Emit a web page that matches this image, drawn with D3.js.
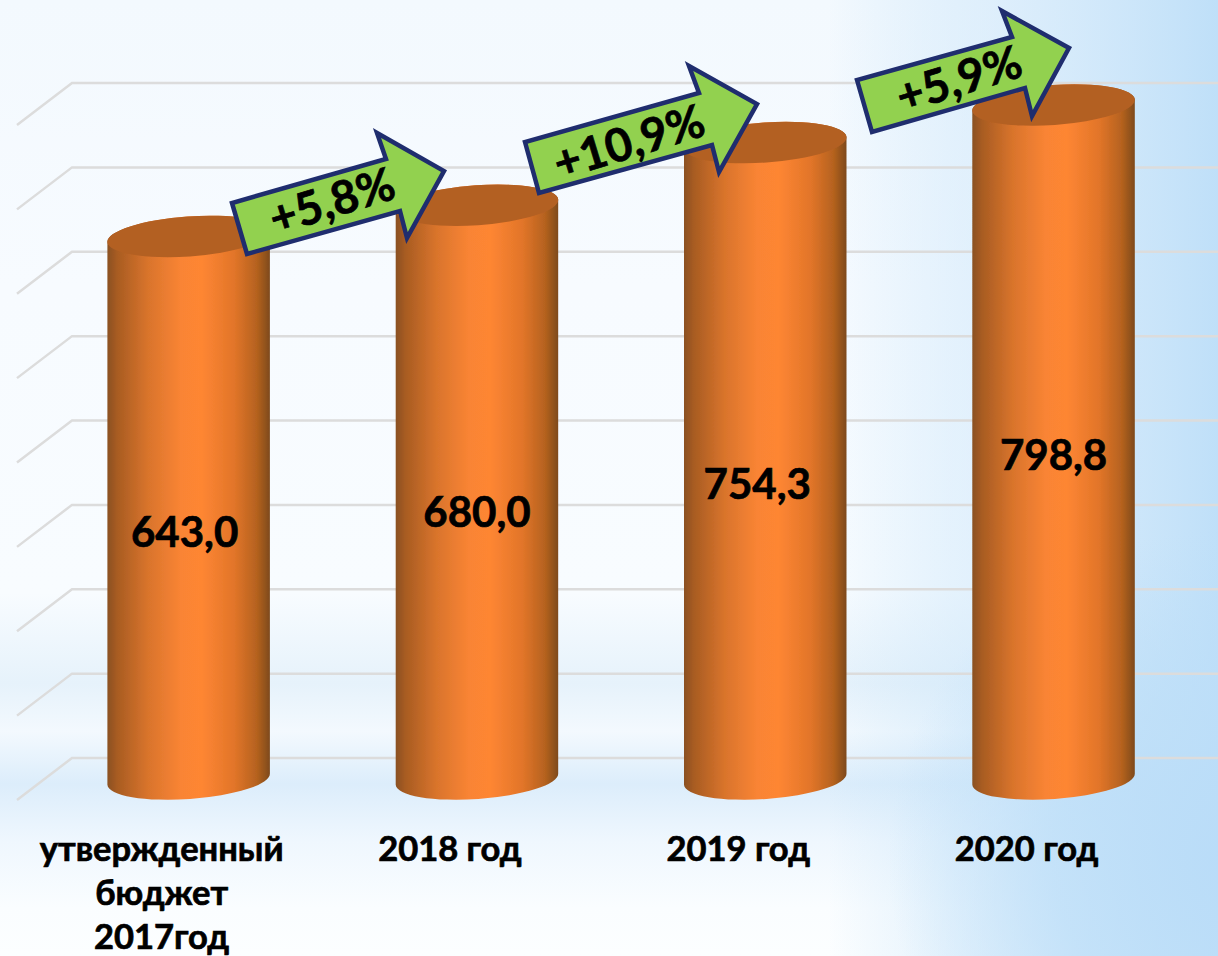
<!DOCTYPE html>
<html>
<head>
<meta charset="utf-8">
<script src="https://cdn.jsdelivr.net/npm/d3@7"></script>
<style>
html, body { margin: 0; padding: 0; background: #fff; overflow: hidden; }
text { font-family: Lato, "Open Sans", sans-serif; font-weight: 700; fill: #000; stroke: #000; stroke-width: 0.7; }
</style>
</head>
<body>
<div id="chart-area"></div>
<script>
var categories = ["утвержденный бюджет 2017год", "2018 год", "2019 год", "2020 год"];
var categoryLines = [["утвержденный", "бюджет", "2017год"], ["2018 год"], ["2019 год"], ["2020 год"]];
var values = [643.0, 680.0, 754.3, 798.8];
var valueLabels = ["643,0", "680,0", "754,3", "798,8"];
var growthLabels = ["+5,8%", "+10,9%", "+5,9%"];
var yTicks = [0, 100, 200, 300, 400, 500, 600, 700, 800];

var width = 1218;
var height = 956;

var svg = d3.select("#chart-area")
	.append("svg")
	.attr("width", width)
	.attr("height", height)
	.style("display", "block");

var defs = svg.append("defs");

function addStops(g, stops) {
	stops.forEach((s) => {
		g.append("stop").attr("offset", s[0]).attr("stop-color", s[1]).attr("stop-opacity", s[2] === undefined ? 1 : s[2]);
	});
}

function gradient(id, stops, x2, y2) {
	var g = defs.append("linearGradient").attr("id", id)
		.attr("x1", 0).attr("y1", 0).attr("x2", x2).attr("y2", y2);
	addStops(g, stops);
}

// slide background, built from overlays
gradient("bgVertical", [[0, "#f3f9fe"], [0.3, "#f7fbff"], [0.62, "#f8fcff"], [0.715, "#e6f2fb"], [0.765, "#f3f9fe"], [0.82, "#dcedfb"], [0.88, "#eff7fe"], [0.95, "#fafdff"], [1, "#fcfeff"]], 0, 1);
gradient("bgRight", [[0, "#bfe0f8", 0], [0.68, "#bfe0f8", 0], [0.82, "#cfe7fa", 0.6], [1, "#bcdef8", 0.95]], 1, 0);

var corner = defs.append("radialGradient").attr("id", "bgCorner")
	.attr("gradientUnits", "userSpaceOnUse")
	.attr("cx", 1218).attr("cy", 860).attr("r", 330);
addStops(corner, [[0, "#b9dcf8", 0.9], [0.5, "#bcdef8", 0.7], [1, "#bcdef8", 0]]);

gradient("cylinder", [[0, "#8a5020"], [0.06, "#a85c22"], [0.25, "#d9742c"], [0.45, "#f98434"], [0.58, "#fe8633"], [0.78, "#e27529"], [0.92, "#b5621f"], [1, "#7e4a1d"]], 1, 0);

defs.append("filter").attr("id", "soft")
	.append("feGaussianBlur").attr("stdDeviation", 0.6);

svg.append("rect").attr("width", width).attr("height", height).attr("fill", "url(#bgVertical)");
svg.append("rect").attr("width", width).attr("height", height).attr("fill", "url(#bgRight)");
svg.append("rect").attr("width", width).attr("height", height).attr("fill", "url(#bgCorner)");

var xScale = d3.scaleBand()
	.domain(categories)
	.range([44.5, 1197.7])
	.paddingInner(0.435)
	.paddingOuter(0.2175);

var yScale = d3.scaleLinear().domain([0, 800]).range([779, 104]);

// floor depth of the 3D chart
var depth = {dx: 55, dy: 21};
var plotRight = width;
var frontLeft = 17;

var grid = svg.append("g").attr("class", "grid")
	.attr("fill", "none")
	.attr("stroke", "#dcdcdc")
	.attr("stroke-width", 2.5);

grid.selectAll("path").data(yTicks).enter().append("path")
	.attr("d", (d) => {
		var y = yScale(d);
		return "M" + frontLeft + "," + (y + depth.dy) + "L" + (frontLeft + depth.dx) + "," + (y - depth.dy) + "H" + plotRight;
	});

// cylinders, ellipse tilted a few degrees like the original
var tilt = 4 * Math.PI / 180;
var ry = 20;

function bodyPath(d, i) {
	var rx = xScale.bandwidth() / 2;
	var cx = xScale(categories[i]) + rx;
	var top = yScale(d);
	var bottom = yScale(0);
	var ox = rx * Math.cos(tilt);
	var oy = rx * Math.sin(tilt);
	return "M" + (cx - ox) + "," + (top + oy)
		+ "L" + (cx - ox) + "," + (bottom + oy)
		+ "A" + rx + "," + ry + " -4 0 0 " + (cx + ox) + "," + (bottom - oy)
		+ "L" + (cx + ox) + "," + (top - oy)
		+ "A" + rx + "," + ry + " -4 0 0 " + (cx - ox) + "," + (top + oy) + "Z";
}

var bars = svg.append("g").attr("class", "bars").attr("filter", "url(#soft)");

bars.selectAll("path").data(values).enter().append("path")
	.attr("d", bodyPath)
	.attr("fill", "url(#cylinder)");

bars.selectAll("ellipse").data(values).enter().append("ellipse")
	.attr("rx", xScale.bandwidth() / 2)
	.attr("ry", ry)
	.attr("fill", "#b36024")
	.attr("transform", (d, i) => {
		return "translate(" + (xScale(categories[i]) + xScale.bandwidth() / 2) + "," + yScale(d) + ") rotate(-4)";
	});

// value labels sit a bit off the middle of each bar
var valueNudge = [[-4, 25], [0, 20], [-8, 24], [0, 13]];

svg.append("g").attr("class", "value-labels").selectAll("text").data(values).enter().append("text")
	.attr("x", (d, i) => xScale(categories[i]) + xScale.bandwidth() / 2 + valueNudge[i][0])
	.attr("y", (d, i) => yScale(d / 2) + valueNudge[i][1])
	.attr("dy", "0.35em")
	.attr("text-anchor", "middle")
	.attr("font-size", 42)
	.text((d, i) => valueLabels[i]);

// category labels, shifted left of the bars as in the source
var labelShift = -27;

categoryLines.forEach((lines, i) => {
	lines.forEach((line, j) => {
		svg.append("text")
			.attr("class", "category-label")
			.attr("x", xScale(categories[i]) + xScale.bandwidth() / 2 + labelShift)
			.attr("y", 849 + j * 44)
			.attr("dy", "0.35em")
			.attr("text-anchor", "middle")
			.attr("font-size", 34.5)
			.text(line);
	});
});

// growth arrows between the bars, the middle one has a longer shaft
var arrowShapes = [
	[[0, 0], [15, 51], [168, 8], [175, 35], [212, -32], [145, -70], [154, -44]],
	[[0, 0], [14, 51], [187, 3], [194, 30], [232, -38], [164, -76], [174, -49]],
	[[0, 0], [15, 52], [168, 8], [175, 36], [212, -32], [145, -69], [155, -43]]
];
var arrowAnchors = [[232, 203], [525, 142], [857, 80]];
var arrowText = [[100, -2], [104, 0], [102, -1]];

var arrowLine = d3.line().curve(d3.curveLinearClosed);

var arrows = svg.append("g").attr("class", "arrows").selectAll("g").data(growthLabels).enter().append("g")
	.attr("transform", (d, i) => "translate(" + arrowAnchors[i][0] + "," + arrowAnchors[i][1] + ")");

arrows.append("path")
	.attr("d", (d, i) => arrowLine(arrowShapes[i]))
	.attr("fill", "#92d14f")
	.attr("stroke", "#1f2d6e")
	.attr("stroke-width", 4.5)
	.attr("stroke-linejoin", "miter");

arrows.append("text")
	.attr("transform", (d, i) => "translate(" + arrowText[i][0] + "," + arrowText[i][1] + ") rotate(-17)")
	.attr("dy", "0.35em")
	.attr("text-anchor", "middle")
	.attr("font-size", 46)
	.text((d) => d);
</script>
</body>
</html>
